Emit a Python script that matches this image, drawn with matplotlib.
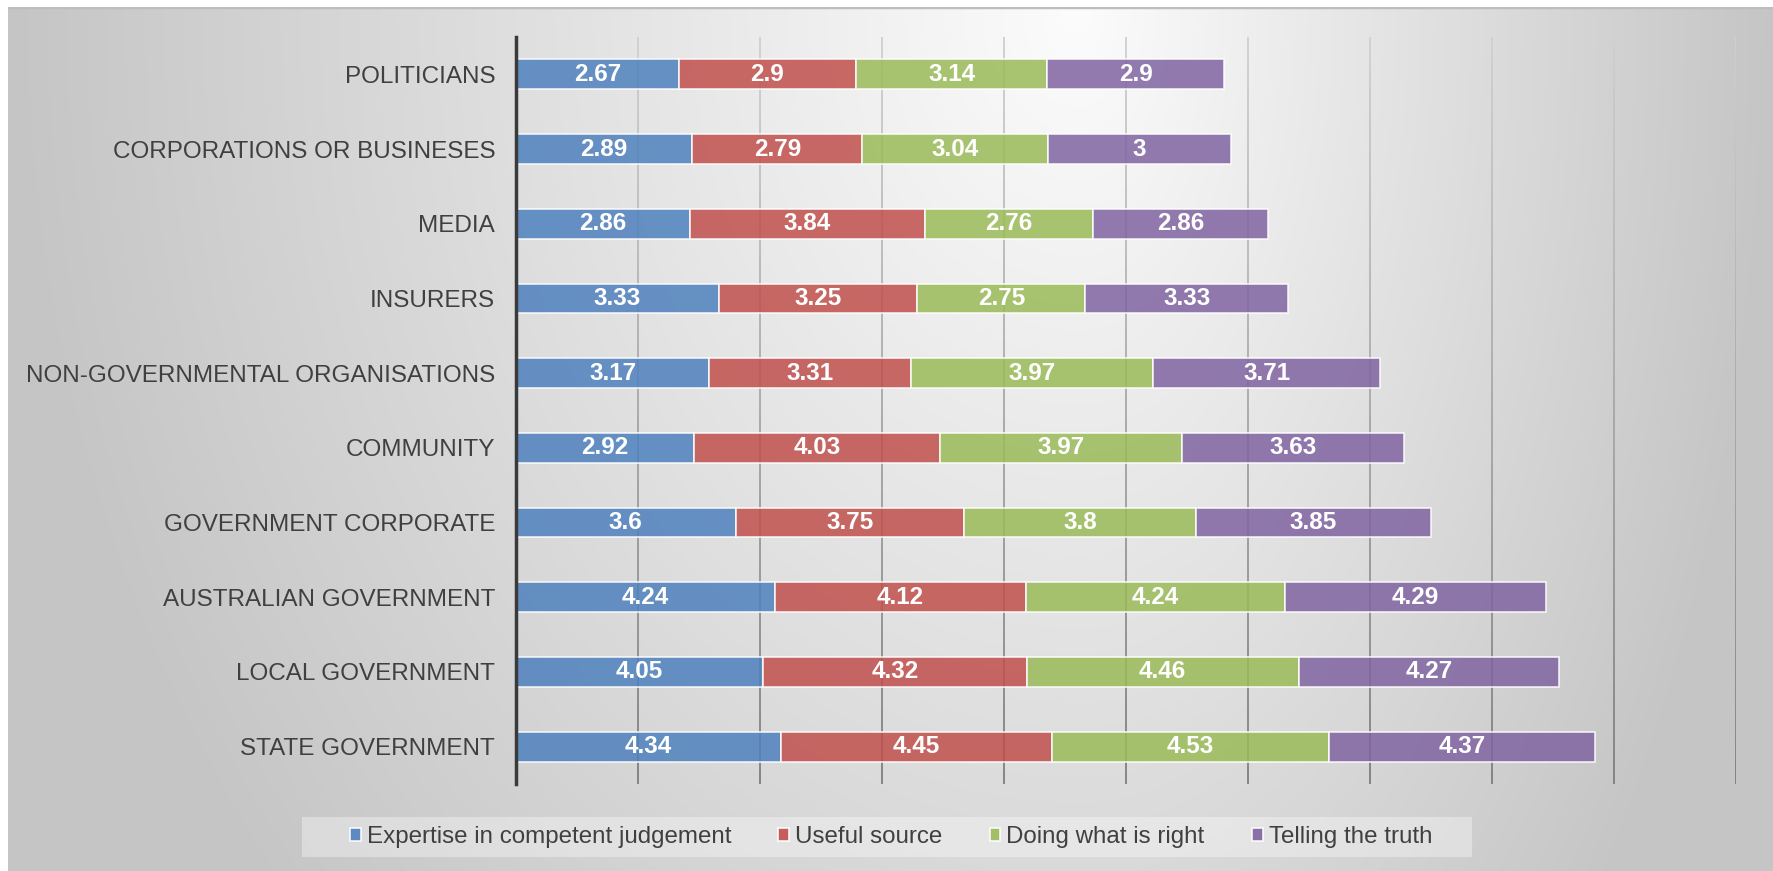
import numpy as np
import matplotlib
matplotlib.use("Agg")
import matplotlib.pyplot as plt
from matplotlib.collections import LineCollection
from matplotlib.colors import to_rgb
from matplotlib.patches import Rectangle

plt.rcParams['font.family'] = ['Liberation Sans', 'DejaVu Sans']

categories = [
    "POLITICIANS",
    "CORPORATIONS OR BUSINESES",
    "MEDIA",
    "INSURERS",
    "NON-GOVERNMENTAL ORGANISATIONS",
    "COMMUNITY",
    "GOVERNMENT CORPORATE",
    "AUSTRALIAN GOVERNMENT",
    "LOCAL GOVERNMENT",
    "STATE GOVERNMENT",
]
series_names = [
    "Expertise in competent judgement",
    "Useful source",
    "Doing what is right",
    "Telling the truth",
]
expertise = [2.67, 2.89, 2.86, 3.33, 3.17, 2.92, 3.6, 4.24, 4.05, 4.34]
useful = [2.9, 2.79, 3.84, 3.25, 3.31, 4.03, 3.75, 4.12, 4.32, 4.45]
doing_right = [3.14, 3.04, 2.76, 2.75, 3.97, 3.97, 3.8, 4.24, 4.46, 4.53]
truth = [2.9, 3, 2.86, 3.33, 3.71, 3.63, 3.85, 4.29, 4.27, 4.37]
colors = ["#4F81BD", "#C0504D", "#9BBB59", "#8064A2"]
x_ticks = np.arange(0, 21, 2)

W, H = 1774, 871
fig = plt.figure(figsize=(W / 100, H / 100), dpi=100)
fig.patch.set_facecolor("white")

# Background panel with a soft gradient, brightest near the top centre
bg = fig.add_axes([8 / W, 0, 1 - 8 / W, 1 - 7 / H])
bg.set_axis_off()
pw, ph = W - 8, H - 7
xx, yy = np.meshgrid(np.arange(pw), np.arange(ph))
cx = 1080 - 8
hw = np.where(xx < cx, cx, pw - cx)
t = np.sqrt(((xx - cx) / hw) ** 2 + 0.4 * (yy / ph) ** 2)
t = np.clip(t, 0, 1)
light, dark = 252, 197
val = (light - t * (light - dark)) / 255.0
img = np.dstack([val, val, val])
bg.imshow(img, aspect="auto", extent=[0, pw, ph, 0], interpolation="bilinear")
bg.plot([0, pw], [0.5, 0.5], color="#bdbdbd", lw=2.5)
bg.set_xlim(0, pw)
bg.set_ylim(ph, 0)

# Main plot area
left, right, top, bottom = 516, 1736, 37, 784
ax = fig.add_axes([left / W, 1 - bottom / H, (right - left) / W, (bottom - top) / H])
ax.set_facecolor("none")

n = len(categories)
y = np.arange(n)
ax.set_xlim(0, 20)
ax.set_ylim(n - 0.5, -0.5)

# Vertical gridlines, shaded darker toward the bottom
top_c = np.array(to_rgb("#cfcfcf"))
bot_c = np.array(to_rgb("#7d7d7d"))
segs, cols = [], []
ys = np.linspace(-0.5, n - 0.5, 60)
for xv in x_ticks[1:]:
    for i in range(len(ys) - 1):
        segs.append([(xv, ys[i]), (xv, ys[i + 1])])
        f = (ys[i] + 0.5) / n
        cols.append(tuple(top_c * (1 - f) + bot_c * f))
ax.add_collection(LineCollection(segs, colors=cols, linewidths=1.3, zorder=1))

data = [expertise, useful, doing_right, truth]
lefts = np.zeros(n)
for name, vals, c in zip(series_names, data, colors):
    vals = np.array(vals)
    ax.barh(y, vals, left=lefts, height=0.4, color=c, alpha=0.85,
            edgecolor=(1, 1, 1, 0.55), linewidth=1.2, label=name, zorder=2)
    for yi, l, v in zip(y, lefts, vals):
        ax.text(l + v / 2, yi, f"{v:g}", ha="center", va="center",
                color="white", fontsize=17.5, fontweight="bold", zorder=3)
    lefts = lefts + vals

ax.set_xticks(x_ticks)
ax.set_xticklabels([])
ax.set_yticks(y)
ax.set_yticklabels(categories, fontsize=17.5, color="#404040")
ax.tick_params(axis="both", length=0)
ax.tick_params(axis="y", pad=15)
for s in ["top", "right", "bottom"]:
    ax.spines[s].set_visible(False)
ax.spines["left"].set_color("#3a3a3a")
ax.spines["left"].set_linewidth(2.5)
ax.spines["left"].set_zorder(4)

# Legend panel behind the legend entries
fig.patches.append(Rectangle((302 / W, 1 - 857 / H), (1472 - 302) / W, 40 / H,
                             transform=fig.transFigure, facecolor=(1, 1, 1, 0.35),
                             edgecolor="none", zorder=1))
leg = fig.legend(loc="center", bbox_to_anchor=(891 / W, 1 - 837 / H), ncol=4,
                 frameon=False, fontsize=17.4, handlelength=0.45, handleheight=0.45,
                 handletextpad=0.25, columnspacing=1.95, borderpad=0.45,
                 labelcolor="#404040")
for h in leg.legend_handles:
    h.set_alpha(0.9)

fig.savefig("out.png", dpi=100)
